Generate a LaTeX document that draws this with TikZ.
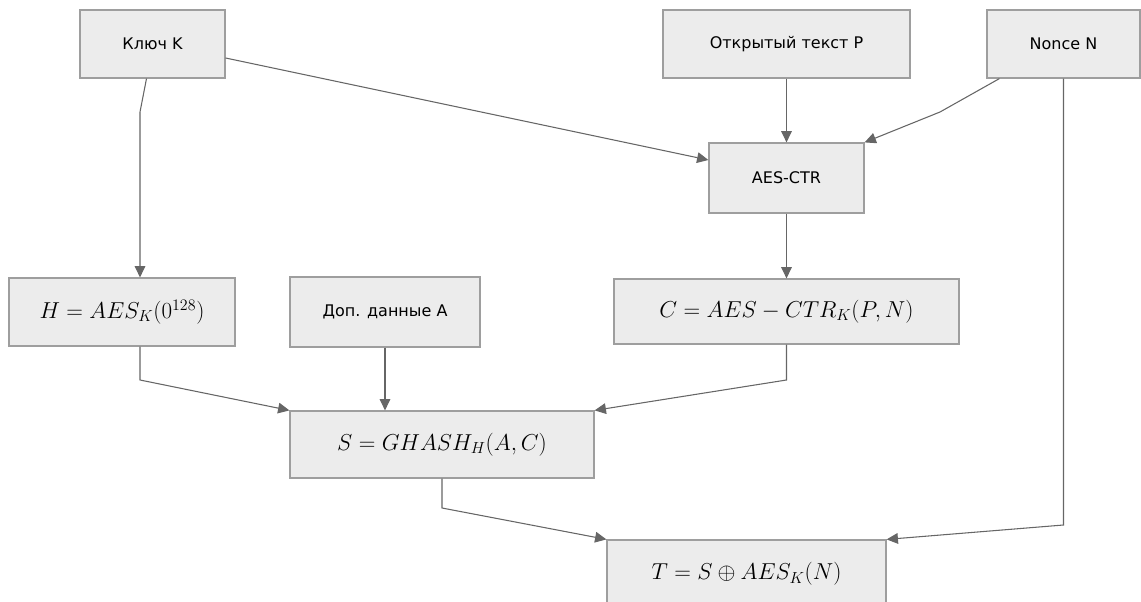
\documentclass[tikz,border=0pt]{standalone}
\usepackage{fontspec}
\setmainfont{DejaVu Sans}
\usepackage{amsmath,amssymb}
\usepackage{xcolor}
\usetikzlibrary{arrows.meta,calc}

\definecolor{boxfill}{HTML}{ECECEC}
\definecolor{boxline}{HTML}{9E9E9E}
\definecolor{edgecol}{HTML}{666666}

\begin{document}
\begin{tikzpicture}[x=0.75pt,y=-0.75pt,
    block/.style={draw=boxline, fill=boxfill, line width=0.9pt, inner sep=0pt,
      font=\fontsize{12}{14}\selectfont},
    mathblock/.style={block, font=\fontsize{17.5}{20}\selectfont},
    arr/.style={draw=edgecol, line width=0.8pt,
      -{Triangle[length=8.5pt,width=8pt]}, color=edgecol}]
  \useasboundingbox (0,0) rectangle (1141,602);

  % Inputs
  \node[block, minimum width=108.75pt, minimum height=51pt] (key) at (152.5,44) {Ключ K};
  \node[block, minimum width=185.25pt, minimum height=51pt] (plain) at (786.5,44) {Открытый текст P};
  \node[block, minimum width=114.75pt, minimum height=51pt] (nonce) at (1063.5,44) {Nonce N};

  % Encryption
  \node[block, minimum width=116.25pt, minimum height=52.5pt] (ctr) at (786.5,178) {AES-CTR};

  % Middle row
  \node[mathblock, minimum width=169.5pt, minimum height=51pt] (hkey) at (122,312) {$H = AES_K(0^{128})$};
  \node[block, minimum width=142.5pt, minimum height=52.5pt] (adata) at (385,312) {Доп. данные A};
  \node[mathblock, minimum width=258.75pt, minimum height=48.75pt] (ciph) at (786.5,311.5) {$C = AES-CTR_K(P, N)$};

  % Hash and tag
  \node[mathblock, minimum width=228pt, minimum height=50.25pt] (ghash) at (442,444.5) {$S = GHASH_H(A, C)$};
  \node[mathblock, minimum width=209.25pt, minimum height=51pt] (tag) at (746.5,574) {$T = S \oplus AES_K(N)$};

  % Bends
  \coordinate (k1) at (140,112);
  \coordinate (n1) at (940,112);
  \coordinate (n2) at (1063.5,525);
  \coordinate (h1) at (140,380);
  \coordinate (c1) at (786.5,380);
  \coordinate (s1) at (442,508);

  % Connectors
  \draw[arr] ([xshift=-4.5pt]key.south) -- (k1) -- (k1 |- hkey.north);
  \draw[arr] ([yshift=-10.5pt]key.east) -- ([yshift=13.5pt]ctr.west);
  \draw[arr] (plain) -- (ctr);
  \draw[arr] ([xshift=9.75pt]nonce.south west) -- (n1) -- (ctr.north east);
  \draw[arr] (nonce.south) -- (n2) -- (tag.north east);
  \draw[arr] (ctr) -- (ciph);
  \draw[arr] (h1 |- hkey.south) -- (h1) -- (ghash.north west);
  \draw[arr] (adata.south) -- (adata.south |- ghash.north);
  \draw[arr] (ciph.south) -- (c1) -- (ghash.north east);
  \draw[arr] (ghash.south) -- (s1) -- (tag.north west);
\end{tikzpicture}
\end{document}
